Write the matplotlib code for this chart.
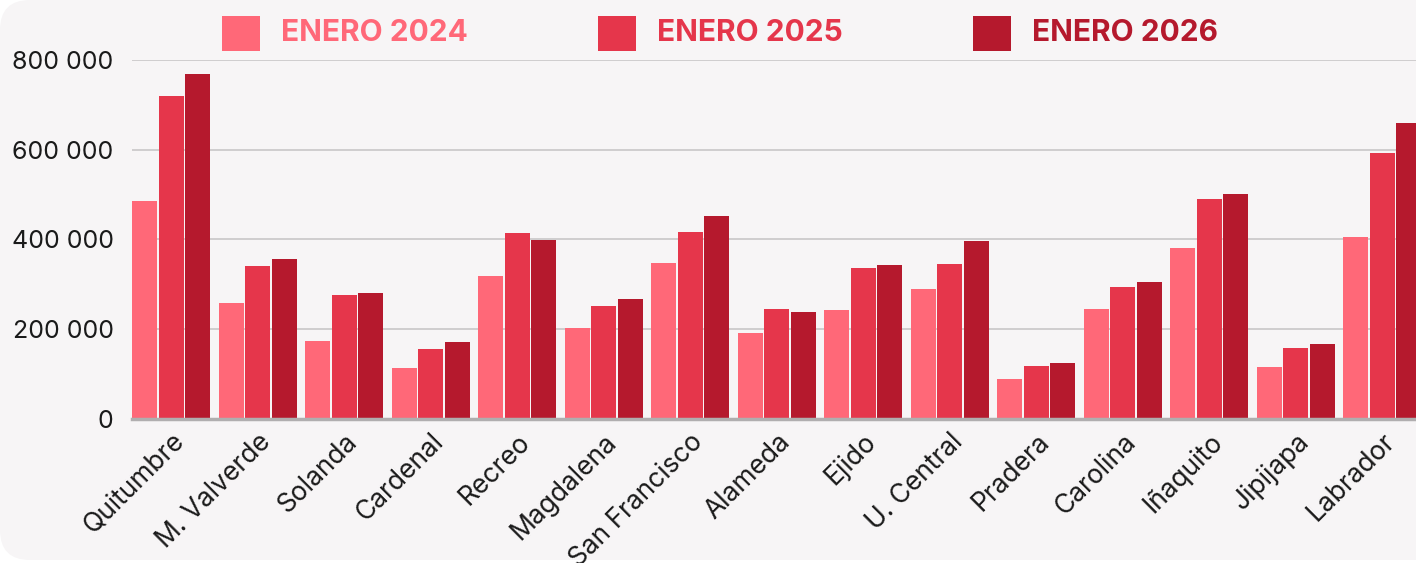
import matplotlib
matplotlib.use("Agg")
import matplotlib.pyplot as plt
from matplotlib.patches import FancyBboxPatch, Rectangle
from matplotlib.transforms import IdentityTransform
from matplotlib.ticker import FuncFormatter
import numpy as np

# Datos
paradas = ["Quitumbre", "M. Valverde", "Solanda", "Cardenal", "Recreo", "Magdalena",
           "San Francisco", "Alameda", "Ejido", "U. Central", "Pradera", "Carolina",
           "Iñaquito", "Jipijapa", "Labrador"]
series = ["ENERO 2024", "ENERO 2025", "ENERO 2026"]
enero_2024 = [485700, 258400, 173100, 114300, 319300, 202700, 346800, 190900,
              242100, 290300, 88400, 244400, 380300, 115900, 406200]
enero_2025 = [719700, 340200, 277000, 156700, 415100, 252400, 416600, 245800,
              335700, 345300, 117400, 294100, 489500, 158200, 592000]
enero_2026 = [768700, 355800, 281400, 170800, 399500, 266600, 451500, 237600,
              343800, 396600, 124100, 304500, 501300, 166400, 658800]
colores = ["#FF6878", "#E5364B", "#B5192D"]

plt.rcParams["font.family"] = ["Inter", "DejaVu Sans"]

W, H = 1416, 563
fig = plt.figure(figsize=(W / 100, H / 100), dpi=100, facecolor="white")

# fondo tipo tarjeta con esquinas redondeadas
card = FancyBboxPatch((0, 3), W + 60, H - 3, boxstyle="round,pad=0,rounding_size=30",
                      transform=IdentityTransform(), facecolor="#F7F5F6", edgecolor="none",
                      zorder=-10)
fig.patches.append(card)

ax = fig.add_axes([132.3 / W, (H - 419) / H, 1297.6 / W, 359 / H])
ax.set_facecolor("none")

x = np.arange(len(paradas))
paso = 0.306
ancho = 0.29
for i, (vals, col) in enumerate(zip([enero_2024, enero_2025, enero_2026], colores)):
    ax.bar(x + (i - 1) * paso, vals, width=ancho, color=col, zorder=3)

ax.set_xlim(-0.451, 14.55)
ax.set_ylim(0, 800000)
ax.set_yticks([0, 200000, 400000, 600000, 800000])
ax.yaxis.set_major_formatter(FuncFormatter(lambda v, p: f"{int(v):,}".replace(",", " ")))
ax.grid(axis="y", color="#C9C7C8", linewidth=1.2, zorder=0)
ax.tick_params(axis="y", length=0, pad=13.5, labelsize=18, labelcolor="#1A1A1A")
ax.tick_params(axis="x", length=0, pad=7, labelsize=19, labelcolor="#1A1A1A")
ax.set_xticks(x)
ax.set_xticklabels(paradas, rotation=45, ha="right", rotation_mode="anchor")
for s in ["top", "right", "left"]:
    ax.spines[s].set_visible(False)
ax.spines["bottom"].set_color("#B0AEAF")
ax.spines["bottom"].set_linewidth(2.5)
ax.spines["bottom"].set_zorder(4)

# leyenda manual arriba
leg_x = [222, 598, 973]
for nombre, col, lx in zip(series, colores, leg_x):
    fig.patches.append(Rectangle((lx / W, (H - 51) / H), 38 / W, 35 / H,
                                 transform=fig.transFigure, facecolor=col, edgecolor="none"))
    fig.text((lx + 59) / W, (H - 33) / H, nombre, color=col, fontsize=21.5,
             fontweight="bold", va="center", ha="left")

fig.savefig("out.png", dpi=100, facecolor=fig.get_facecolor())
